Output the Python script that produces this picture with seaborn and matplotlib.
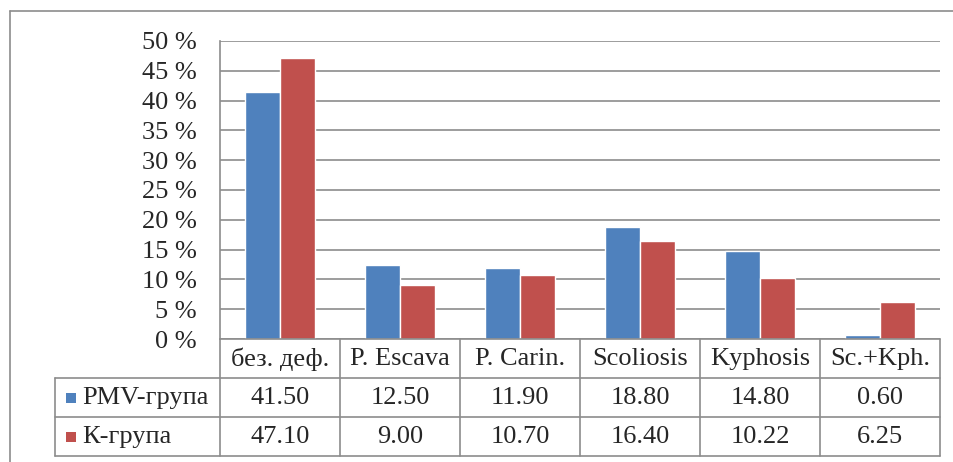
import matplotlib
matplotlib.use("Agg")
import matplotlib.pyplot as plt
from matplotlib.lines import Line2D
from matplotlib.patches import Rectangle
import seaborn as sns
import pandas as pd

categories = ["без. деф.", "P. Escava", "P. Carin.", "Scoliosis", "Kyphosis", "Sc.+Kph."]
series_names = ["PMV-група", "К-група"]
pmv_values = [41.50, 12.50, 11.90, 18.80, 14.80, 0.60]
k_values = [47.10, 9.00, 10.70, 16.40, 10.22, 6.25]
table_pmv = ["41.50", "12.50", "11.90", "18.80", "14.80", "0.60"]
table_k = ["47.10", "9.00", "10.70", "16.40", "10.22", "6.25"]
y_ticks = [0, 5, 10, 15, 20, 25, 30, 35, 40, 45, 50]
y_tick_labels = [f"{v} %" for v in y_ticks]
colors = ["#4F81BD", "#C0504D"]

sns.set_style("white")
plt.rcParams["font.family"] = ["Liberation Serif", "DejaVu Serif"]

W, H = 954, 462
fig = plt.figure(figsize=(W / 100, H / 100), dpi=100)

def fx(x):
    return x / W

def fy(y):
    return 1 - y / H

df = pd.DataFrame({
    "cat": categories * 2,
    "grp": [series_names[0]] * 6 + [series_names[1]] * 6,
    "val": pmv_values + k_values,
})

L, R, T, B = 220, 940, 41, 339
ax = fig.add_axes([fx(L), fy(B), (R - L) / W, (B - T) / H])
sns.barplot(data=df, x="cat", y="val", hue="grp", order=categories,
            hue_order=series_names, palette=colors, width=0.58, saturation=1,
            edgecolor="white", linewidth=1, legend=False, ax=ax, zorder=3)
ax.set_xlim(-0.5, 5.5)
ax.set_ylim(0, 50)
ax.set_yticks(y_ticks)
fs = 19
ax.set_yticklabels(y_tick_labels, fontsize=fs)
ax.tick_params(axis="y", length=0, pad=17)
ax.set_xticks([])
ax.set_xlabel("")
ax.set_ylabel("")
ax.yaxis.grid(True, color="#8c8c8c", linewidth=1.2)
ax.set_axisbelow(True)
for s in ["top", "right", "bottom"]:
    ax.spines[s].set_visible(False)
ax.spines["left"].set_color("#8c8c8c")
ax.spines["left"].set_linewidth(1.2)

lc = "#8c8c8c"

def hline(y, x0, x1, lw=1.2):
    fig.add_artist(Line2D([fx(x0), fx(x1)], [fy(y), fy(y)], color=lc, lw=lw,
                          transform=fig.transFigure))

def vline(x, y0, y1, lw=1.2):
    fig.add_artist(Line2D([fx(x), fx(x)], [fy(y0), fy(y1)], color=lc, lw=lw,
                          transform=fig.transFigure))

# outer frame
hline(11, 10, 954)
vline(10, 11, 462)

# table
cols = [220, 340, 460, 580, 700, 820, 940]
hline(339, 220, 940)
hline(378, 55, 940)
hline(417, 55, 940)
hline(456, 55, 940)
for x in cols:
    vline(x, 339, 456)
vline(55, 378, 456)

for i, c in enumerate(categories):
    cx = (cols[i] + cols[i + 1]) / 2
    fig.text(fx(cx), fy(359), c, ha="center", va="center", fontsize=fs)
    fig.text(fx(cx), fy(398), table_pmv[i], ha="center", va="center", fontsize=fs)
    fig.text(fx(cx), fy(437), table_k[i], ha="center", va="center", fontsize=fs)

for j, (name, col) in enumerate(zip(series_names, colors)):
    yc = 398 + 39 * j
    fig.add_artist(Rectangle((fx(66), fy(yc + 5)), 10 / W, 10 / H, facecolor=col,
                             edgecolor="none", transform=fig.transFigure))
    fig.text(fx(82), fy(yc), name, ha="left", va="center", fontsize=fs)

fig.savefig("out.png", dpi=100, facecolor="white")
